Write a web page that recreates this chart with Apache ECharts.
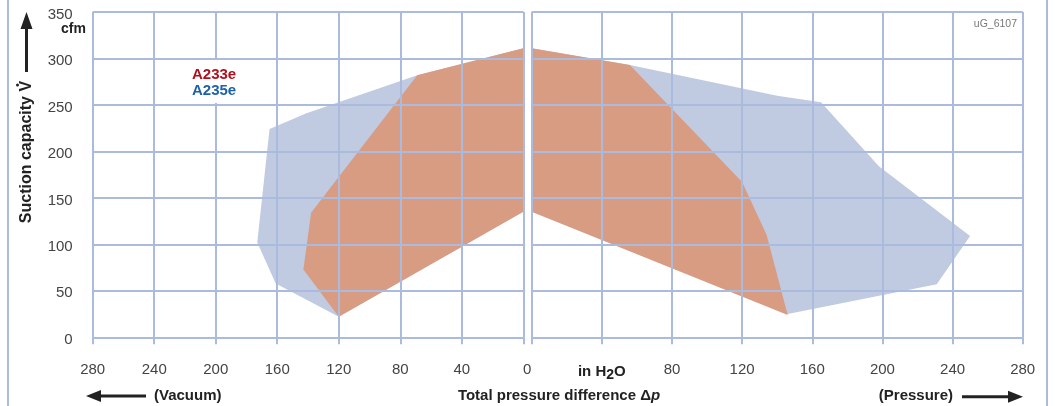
<!DOCTYPE html>
<html><head><meta charset="utf-8">
<script src="https://cdn.jsdelivr.net/npm/echarts@6/dist/echarts.min.js"></script>
<style>html,body{margin:0;padding:0;background:#fff}#c{width:1055px;height:406px}</style>
</head><body><div id="c"></div>
<script>
// ---- data ----
const yTicks = [0, 50, 100, 150, 200, 250, 300, 350];          // cfm
const xTicks = [0, 40, 80, 120, 160, 200, 240, 280];          // in H2O
const seriesNames = ['A233e', 'A235e'];
// polygons: [pressure difference (in H2O), suction capacity (cfm)]
const a235eVacuum   = [[0,311],[69,282],[141,241],[165,224],[173,102],[161,58],[120,22],[0,135]];
const a233eVacuum   = [[0,311],[69,282],[138,134],[143,73],[120,22],[0,135]];
const a235ePressure = [[0,311],[56,293],[140,260],[165,253],[198,184],[250,109],[231,57],[146,25],[0,135]];
const a233ePressure = [[0,311],[56,293],[120,167],[134,110],[146,24],[0,135]];

const GRID = '#aabbde';
const BLUE_FILL = '#c0cbe2';
const ORANGE_FILL = '#d89c83';
const FONT = '"Liberation Sans", Arial, sans-serif';

function poly(points, color, xi) {
  return {
    type: 'custom', xAxisIndex: xi, yAxisIndex: xi, z: 1, silent: true,
    data: [[0, 0]],
    renderItem: function (params, api) {
      return { type: 'polygon', shape: { points: points.map(p => api.coord(p)) },
               style: { fill: color } };
    }
  };
}

const chart = echarts.init(document.getElementById('c'), null, { renderer: 'canvas' });
const xMax = xTicks[xTicks.length - 1], yMax = yTicks[yTicks.length - 1];
const xInt = xTicks[1] - xTicks[0], yInt = yTicks[1] - yTicks[0];

const xCommon = {
  type: 'value', min: xTicks[0], max: xMax, interval: xInt, z: 3,
  axisLine: { show: false },
  axisTick: { show: true, length: 7, lineStyle: { color: GRID, width: 2 } },
  splitLine: { show: true, lineStyle: { color: GRID, width: 2 } },
  axisLabel: { margin: 25, fontSize: 15, color: '#444', fontFamily: FONT }
};
const yCommon = {
  type: 'value', min: yTicks[0], max: yMax, interval: yInt, z: 3,
  axisLine: { show: false },
  splitLine: { show: true, lineStyle: { color: GRID, width: 2 } }
};

function g(el) { el.z = 100; return el; }

chart.setOption({
  animation: false,
  grid: [
    { left: 92.7, top: 12, width: 430.6, height: 325.3 },
    { left: 531.7, top: 12, width: 491, height: 325.3 }
  ],
  xAxis: [
    Object.assign({}, xCommon, { gridIndex: 0, inverse: true,
      axisLabel: Object.assign({}, xCommon.axisLabel, {
        formatter: v => v === 0 ? '' : String(v) }) }),
    Object.assign({}, xCommon, { gridIndex: 1,
      axisLabel: Object.assign({}, xCommon.axisLabel, {
        formatter: v => v === 0 ? '{z|0}' : (v === xInt ? '{b|in H}{s|2}{b|O}' : String(v)),
        rich: {
          z: { fontSize: 15, color: '#444', fontFamily: FONT, padding: [0, 9, 0, 0] },
          b: { fontSize: 15, fontWeight: 'bold', color: '#222', fontFamily: FONT },
          s: { fontSize: 14, fontWeight: 'bold', color: '#222', fontFamily: FONT, padding: [6, 0, 0, 0] }
        } }) })
  ],
  yAxis: [
    Object.assign({}, yCommon, { gridIndex: 0,
      axisTick: { show: true, length: 7, lineStyle: { color: GRID, width: 2 } },
      axisLabel: { margin: 20, fontSize: 15, color: '#444', fontFamily: FONT,
        formatter: v => '{a|' + v + '}',
        rich: { a: { fontSize: 15, color: '#444', fontFamily: FONT, padding: [5, 0, 0, 0] } } } }),
    Object.assign({}, yCommon, { gridIndex: 1, axisTick: { show: false }, axisLabel: { show: false } })
  ],
  series: [
    poly(a235eVacuum, BLUE_FILL, 0),
    poly(a233eVacuum, ORANGE_FILL, 0),
    poly(a235ePressure, BLUE_FILL, 1),
    poly(a233ePressure, ORANGE_FILL, 1)
  ],
  graphic: [
    // frame lines
    g({ type: 'rect', shape: { x: 7, y: 0, width: 2, height: 406 }, style: { fill: GRID } }),
    g({ type: 'rect', shape: { x: 1046, y: 0, width: 2, height: 406 }, style: { fill: GRID } }),
    // unit
    g({ type: 'text', x: 61, y: 29, style: { text: 'cfm', font: 'bold 14px ' + FONT, fill: '#222', textVerticalAlign: 'middle' } }),
    // legend labels on a white box
    g({ type: 'rect', shape: { x: 186, y: 60, width: 58, height: 43 }, style: { fill: '#fff' } }),
    g({ type: 'text', x: 192, y: 75, style: { text: seriesNames[0], font: 'bold 15px ' + FONT, fill: '#b0101e', textVerticalAlign: 'middle' } }),
    g({ type: 'text', x: 192, y: 91, style: { text: seriesNames[1], font: 'bold 15px ' + FONT, fill: '#1c62a6', textVerticalAlign: 'middle' } }),
    // code
    g({ type: 'text', x: 1017, y: 24, style: { text: 'uG_6107', font: '10.5px ' + FONT, fill: '#777', textAlign: 'right', textVerticalAlign: 'middle' } }),
    // y-axis title + arrow
    g({ type: 'text', x: 27, y: 152, rotation: Math.PI / 2,
      style: { text: 'Suction capacity V', font: 'bold 16px ' + FONT, fill: '#222', textAlign: 'center', textVerticalAlign: 'middle' } }),
    g({ type: 'circle', shape: { cx: 17.5, cy: 85, r: 1.5 }, style: { fill: '#222' } }),
    g({ type: 'rect', shape: { x: 25, y: 26, width: 3, height: 46 }, style: { fill: '#222' } }),
    g({ type: 'polygon', shape: { points: [[26.5, 12], [20.5, 29], [32.5, 29]] }, style: { fill: '#222' } }),
    // bottom texts
    g({ type: 'text', x: 154, y: 396, style: { text: '(Vacuum)', font: 'bold 15px ' + FONT, fill: '#222', textVerticalAlign: 'middle' } }),
    g({ type: 'rect', shape: { x: 98, y: 394.6, width: 48, height: 3 }, style: { fill: '#222' } }),
    g({ type: 'polygon', shape: { points: [[86, 396], [101, 390], [101, 402]] }, style: { fill: '#222' } }),
    g({ type: 'text', x: 559, y: 396, style: {
        text: '{t|Total pressure difference Δ}{p|p}', textAlign: 'center', textVerticalAlign: 'middle',
        rich: { t: { font: 'bold 15px ' + FONT, fill: '#222' }, p: { font: 'italic bold 15px ' + FONT, fill: '#222' } } } }),
    g({ type: 'text', x: 953, y: 396, style: { text: '(Pressure)', font: 'bold 15px ' + FONT, fill: '#222', textAlign: 'right', textVerticalAlign: 'middle' } }),
    g({ type: 'rect', shape: { x: 962, y: 395.2, width: 48, height: 3 }, style: { fill: '#222' } }),
    g({ type: 'polygon', shape: { points: [[1023, 396.7], [1008, 390.7], [1008, 402.7]] }, style: { fill: '#222' } })
  ]
});
</script></body></html>
